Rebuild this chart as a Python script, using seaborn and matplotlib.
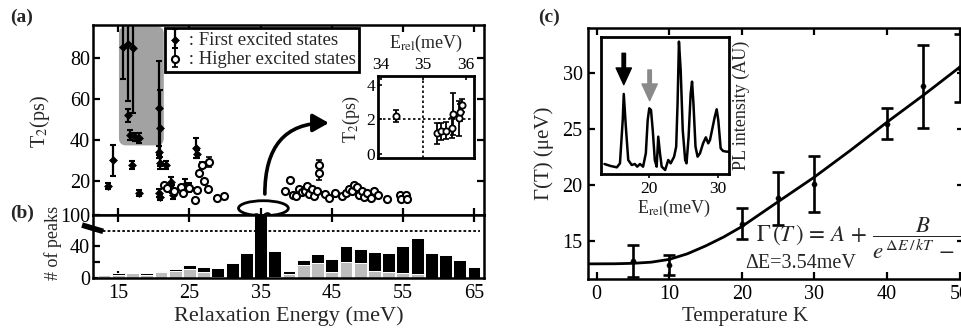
import numpy as np
import matplotlib
matplotlib.use('Agg')
import matplotlib.pyplot as plt
import seaborn as sns
from matplotlib.patches import FancyBboxPatch, Ellipse
from matplotlib.legend_handler import HandlerTuple

# ---------------- data ----------------
# panel (a): first excited states (filled)
E_first = [13.5, 14.3, 15.6, 16.3, 17.1, 16.4, 16.7, 17.3, 17.9, 16.9, 17.9, 20.7, 20.9, 20.7, 20.8,
           21.7, 20.7, 20.8, 22.4, 22.6, 22.7, 24.4, 24.9, 25.9, 26.0]
T_first = [17.5, 30.0, 85.6, 87.0, 85.0, 52.0, 42.5, 41.5, 41.0, 27.5, 14.0, 55.5, 45.9, 34.0, 28.5,
           27.7, 14.0, 12.0, 19.5, 16.0, 13.0, 18.0, 17.0, 36.0, 33.0]
err_first = [1.5, 7.7, 16.0, 28.0, 32.0, 3.0, 2.5, 2.0, 2.5, 2.0, 1.5, 23.0, 18.6, 3.0, 3.0,
             2.0, 2.0, 1.5, 2.5, 2.0, 2.0, 3.0, 2.0, 5.0, 2.0]

# panel (a): higher excited states (open)
E_high = [21.4, 21.9, 22.8, 23.8, 24.1, 24.9, 25.8, 26.1, 26.4, 26.8, 27.0, 27.6, 27.8, 28.9, 29.9,
          38.5, 39.2, 39.5, 40.0, 40.4, 40.8, 41.2, 41.5, 41.8, 42.2,
          42.5, 43.0, 43.2, 43.2, 44.0, 44.6, 45.5, 46.5, 47.0, 47.4,
          47.8, 48.2, 48.5, 48.8, 49.2, 49.6, 50.0, 50.5, 51.0, 51.5,
          52.8, 54.6, 55.5, 54.7, 55.6]
T_high = [17.7, 16.5, 15.0, 17.0, 14.0, 16.5, 10.5, 15.5, 24.0, 27.5, 20.0, 16.0, 29.0, 11.5, 12.7,
          14.8, 20.5, 13.0, 12.5, 16.0, 14.5, 15.0, 17.5, 13.5, 16.0,
          12.5, 15.0, 27.5, 24.0, 13.5, 11.5, 14.0, 12.5, 14.0, 16.0,
          15.0, 18.0, 17.0, 13.0, 15.0, 12.0, 14.0, 11.5, 15.0, 13.0,
          11.0, 13.0, 13.0, 11.0, 11.0]
err_high = [0.8, 0.8, 0.8, 0.8, 0.8, 2.0, 0.8, 0.8, 0.8, 1.5, 0.8, 0.8, 2.5, 0.8, 0.8,
            0.8, 0.8, 0.8, 0.8, 0.8, 0.8, 2.0, 0.8, 0.8, 0.8,
            0.8, 0.8, 2.5, 3.5, 0.8, 0.8, 0.8, 0.8, 0.8, 0.8,
            0.8, 0.8, 0.8, 0.8, 0.8, 0.8, 0.8, 0.8, 0.8, 0.8,
            0.8, 0.8, 0.8, 0.8, 0.8]

# inset of (a): zoom around 35 meV
E_zoom = [34.37, 35.32, 35.43, 35.55, 35.69, 35.70, 35.85, 35.88, 35.92]
T_zoom = [2.2, 1.2, 1.3, 1.35, 1.5, 2.3, 2.05, 2.4, 2.8]
err_zoom = [0.35, 0.6, 0.5, 0.5, 0.6, 1.2, 1.0, 0.5, 0.4]

# panel (b): histogram of peaks (axis broken above ~60; 35 meV bar off scale)
bin_centers = [13, 15, 17, 19, 21, 23, 25, 27, 29, 31, 33, 35, 37, 39, 41, 43, 45, 47, 49, 51, 53,
               55, 57, 59, 61, 63, 65]
peaks_total = [4, 6, 6, 6, 9, 11, 15.5, 14, 13, 18, 31, 85, 34, 9, 22, 30, 24, 40, 36, 32, 31,
               39, 50, 31.5, 28, 22, 14]
peaks_higher = [4, 4, 6, 4, 7.5, 8.5, 11, 7, 1, 0, 0, 0, 1, 5, 15.5, 18, 7.5, 20, 18, 9, 7.5,
                6, 5, 0, 0, 0, 0]

# panel (c): linewidth vs temperature
T_c = [5, 10, 20, 25, 30, 40, 45, 50]
G_c = [13.2, 12.85, 16.55, 18.8, 20.1, 25.45, 28.8, 30.45]
err_c = [1.4, 0.85, 1.4, 2.35, 2.5, 1.4, 3.7, 3.05]
T_fit = [-1, 2.5, 5, 7.5, 10, 12.5, 15, 17.5, 20, 25, 30, 35, 40, 45, 50, 50.6]
G_fit = [12.95, 12.96, 13.0, 13.1, 13.35, 13.85, 14.55, 15.35, 16.28, 18.5, 20.7, 23.1, 25.6,
         28.0, 30.5, 30.8]

# inset of (c): PL spectrum
E_pl = [13.5, 14.4, 15.3, 15.75, 16.15, 16.3, 16.6, 16.95, 17.45, 17.9, 18.25, 18.65, 19.1, 19.5,
        19.77, 20.0, 20.25, 20.5, 20.8, 21.07, 21.3, 21.55, 21.8, 22.3, 22.75, 23.1, 23.6, 23.9,
        24.1, 24.3, 24.55, 24.85, 25.2, 25.4, 25.7, 26.0, 26.2, 26.4, 26.7, 27.0, 27.35, 27.8,
        28.2, 28.55, 28.8, 29.2, 29.5, 29.77, 30.0, 30.35, 30.7, 31.2, 31.6]
I_pl = [30, 24, 20, 32, 162, 240, 142, 42, 27, 30, 22, 30, 22, 62,
        162, 197, 192, 132, 42, 22, 112, 62, 22, 12, 42, 32, 52, 82,
        212, 397, 312, 132, 42, 32, 112, 242, 277, 212, 82, 52, 62, 92,
        110, 92, 102, 142, 172, 194, 162, 77, 69, 67, 67]

# ---------------- style ----------------
sns.set_style('ticks')
plt.rcParams['font.family'] = ['Liberation Serif', 'DejaVu Serif']
plt.rcParams['mathtext.fontset'] = 'stix'
plt.rcParams['axes.linewidth'] = 1.8
plt.rcParams['axes.edgecolor'] = 'black'
plt.rcParams['xtick.color'] = 'black'
plt.rcParams['ytick.color'] = 'black'

W, H = 962, 332
fig = plt.figure(figsize=(W / 100, H / 100), dpi=100)


def box(l, r, t, b):
    return [l / W, 1 - b / H, (r - l) / W, (b - t) / H]


axa = fig.add_axes(box(93, 484, 25, 215))
axb = fig.add_axes(box(93, 484, 215, 278))
axai = fig.add_axes(box(377.7, 474, 76, 158.3))
axc = fig.add_axes(box(588.3, 964, 28, 279))
axci = fig.add_axes(box(601, 729.3, 37.3, 174))

# ---------------- panel (a) ----------------
axa.set_xlim(11.45, 66.4)
axa.set_ylim(3.2, 96.3)
axa.add_patch(FancyBboxPatch((15.1, 37.3), 6.3, 58.3,
                             boxstyle='round,pad=0,rounding_size=1.0', mutation_aspect=3.5,
                             facecolor='#a2a2a2', edgecolor='none', zorder=0.5))
eb1 = axa.errorbar(E_first, T_first, yerr=err_first, fmt='none', ecolor='black',
                   elinewidth=1.6, capsize=2.5, capthick=1.5, zorder=2)
sns.scatterplot(x=E_first, y=T_first, ax=axa, marker='D', s=16, color='black',
                edgecolor='black', linewidth=0.5, zorder=3)
sc1 = axa.collections[-1]
eb2 = axa.errorbar(E_high, T_high, yerr=err_high, fmt='none', ecolor='black',
                   elinewidth=1.3, capsize=2, capthick=1.2, zorder=2)
sns.scatterplot(x=E_high, y=T_high, ax=axa, marker='o', s=26, color='white',
                edgecolor='black', linewidth=1.5, zorder=3)
sc2 = axa.collections[-1]
# the 35 meV points (shown magnified in the inset)
sns.scatterplot(x=E_zoom, y=T_zoom, ax=axa, marker='o', s=22, color='white',
                edgecolor='black', linewidth=1.5, zorder=4)
axa.collections[-1].set_clip_on(False)
axa.add_patch(Ellipse((35.4, 6.5), 7.0, 7.4, facecolor='none', edgecolor='black',
                      lw=2, clip_on=False, zorder=5))
axa.annotate('', xy=(44.6, 48.3), xytext=(35.6, 13.5),
             arrowprops=dict(arrowstyle='-|>,head_length=0.8,head_width=0.45',
                             connectionstyle='angle3,angleA=90,angleB=0',
                             color='black', lw=2.6, mutation_scale=12, shrinkA=0, shrinkB=0))
axa.set_yticks([20, 40, 60, 80])
axa.set_xticks([15, 25, 35, 45, 55, 65])
axa.set_xticklabels([])
axa.tick_params(axis='both', direction='in', top=True, right=True, length=5, width=1.6,
                labelsize=14.5, pad=2)
axa.set_ylabel('T$_2$(ps)', fontsize=14.5)
axa.yaxis.set_label_coords(-0.105, 0.49)
leg = axa.legend([(eb1, sc1), (eb2, sc2)], [' : First excited states', ' : Higher excited states'],
                 loc='upper left', bbox_to_anchor=(0.184, 0.985), borderaxespad=0,
                 fancybox=False, frameon=True, edgecolor='black', framealpha=1,
                 fontsize=13.5, handlelength=0.7, handletextpad=0.1, borderpad=0.2,
                 labelspacing=0.12, handler_map={tuple: HandlerTuple(ndivide=1)})
leg.get_frame().set_linewidth(2.0)

# ---------------- inset of (a) ----------------
axai.set_xlim(33.93, 36.2)
axai.set_ylim(-0.25, 4.5)
axai.axvline(35, color='black', ls=(0, (1.5, 1.5)), lw=1.2)
axai.axhline(2, color='black', ls=(0, (1.5, 1.5)), lw=1.2)
axai.errorbar(E_zoom, T_zoom, yerr=err_zoom, fmt='none', ecolor='black', elinewidth=1.3,
              capsize=2, capthick=1.2)
sns.scatterplot(x=E_zoom, y=T_zoom, ax=axai, marker='o', s=20, color='white',
                edgecolor='black', linewidth=1.3, zorder=3)
axai.xaxis.tick_top()
axai.set_xticks([34, 35, 36])
axai.set_yticks([0, 2, 4])
axai.tick_params(axis='both', direction='in', length=3, width=1.2, labelsize=12.5, pad=2)
for s in axai.spines.values():
    s.set_linewidth(2.0)
axai.text(0.5, 1.40, r'E$_{\mathrm{rel}}$(meV)', transform=axai.transAxes, ha='center',
          va='center', fontsize=13)
axai.text(-0.27, 0.47, 'T$_2$(ps)', transform=axai.transAxes, ha='center', va='center',
          rotation=90, fontsize=13)

# ---------------- panel (b) ----------------
peaks_first = [t - h for t, h in zip(peaks_total, peaks_higher)]
axb.bar(bin_centers, peaks_higher, width=1.8, color='#bdbdbd', edgecolor='white', linewidth=0.7)
axb.bar(bin_centers, peaks_first, bottom=peaks_higher, width=1.8, color='black',
        edgecolor='white', linewidth=0.7)
axb.set_xlim(11.45, 66.4)
axb.set_ylim(0, 78)
axb.plot([11.45, 65.9], [58, 58], color='black', ls=(0, (1.5, 1.2)), lw=1.3)
axb.plot([-0.028, 0.026], [0.84, 0.74], transform=axb.transAxes, color='black', lw=4,
         clip_on=False, solid_capstyle='butt')
axb.set_xticks([15, 25, 35, 45, 55, 65])
axb.set_yticks([0, 20, 40, 78])
axb.set_yticklabels(['0', '', '40', '100'])
axb.tick_params(axis='both', direction='in', top=True, right=False, length=5, width=1.6,
                labelsize=14.5, pad=2)
axb.tick_params(axis='x', pad=4)
axb.set_xlabel('Relaxation Energy (meV)', fontsize=16)
axb.xaxis.set_label_coords(0.5, -0.45)
axb.set_ylabel('# of peaks', fontsize=13)
axb.yaxis.set_label_coords(-0.08, 0.55)

# ---------------- panel (c) ----------------
axc.set_xlim(-1.15, 50.6)
axc.set_ylim(11.6, 34.0)
sns.lineplot(x=T_fit, y=G_fit, ax=axc, color='black', lw=2, zorder=2)
axc.errorbar(T_c, G_c, yerr=err_c, fmt='none', ecolor='black', elinewidth=1.9, capsize=4,
             capthick=1.9, zorder=3)
sns.scatterplot(x=T_c, y=G_c, ax=axc, marker='o', s=14, color='black', edgecolor='black',
                zorder=4)
axc.set_xticks([0, 10, 20, 30, 40, 50])
axc.set_yticks([15, 20, 25, 30])
axc.tick_params(axis='both', direction='in', top=True, right=True, length=5, width=1.6,
                labelsize=14.5, pad=4)
axc.set_xlabel('Temperature K', fontsize=15)
axc.xaxis.set_label_coords(0.417, -0.11)
axc.set_ylabel('Γ(T) (μeV)', fontsize=15)
axc.yaxis.set_label_coords(-0.092, 0.5)
axc.text(21.9, 15.25, r'$\Gamma\,(T\,)\,=\,A\,+\,\dfrac{B}{e^{\,\Delta E\,/\,kT}\,-\,1}$',
         fontsize=16.5, ha='left', va='center', clip_on=False)
axc.text(20.4, 12.95, 'ΔE=3.54meV', fontsize=14.5, ha='left', va='center')

# ---------------- inset of (c) ----------------
axci.set_facecolor('white')
sns.lineplot(x=E_pl, y=I_pl, ax=axci, color='black', lw=1.8)
axci.set_xlim(13, 31.6)
axci.set_ylim(0, 410)
axci.set_xticks([20, 30])
axci.set_yticks([])
axci.tick_params(axis='x', direction='out', length=3, width=1.2, labelsize=12.5, pad=2)
for s in axci.spines.values():
    s.set_linewidth(2.0)
axci.annotate('', xy=(16.3, 268), xytext=(16.3, 362),
              arrowprops=dict(facecolor='black', edgecolor='black', width=2.5, headwidth=11,
                              headlength=12, shrink=0))
axci.annotate('', xy=(20.05, 220), xytext=(20.05, 312),
              arrowprops=dict(facecolor='#8a8a8a', edgecolor='#8a8a8a', width=2.5, headwidth=11,
                              headlength=12, shrink=0))
axci.text(0.57, -0.25, r'E$_{\mathrm{rel}}$(meV)', transform=axci.transAxes, ha='center',
          va='center', fontsize=13)
axci.text(1.09, 0.5, 'PL intensity (AU)', transform=axci.transAxes, ha='center', va='center',
          rotation=90, fontsize=13)

# panel letters
fig.text(10 / W, 1 - 17 / H, '(a)', fontsize=14, fontweight='bold', va='center')
fig.text(10 / W, 1 - 213 / H, '(b)', fontsize=14, fontweight='bold', va='center')
fig.text(538 / W, 1 - 17 / H, '(c)', fontsize=14, fontweight='bold', va='center')

fig.savefig('out.png', dpi=100)
